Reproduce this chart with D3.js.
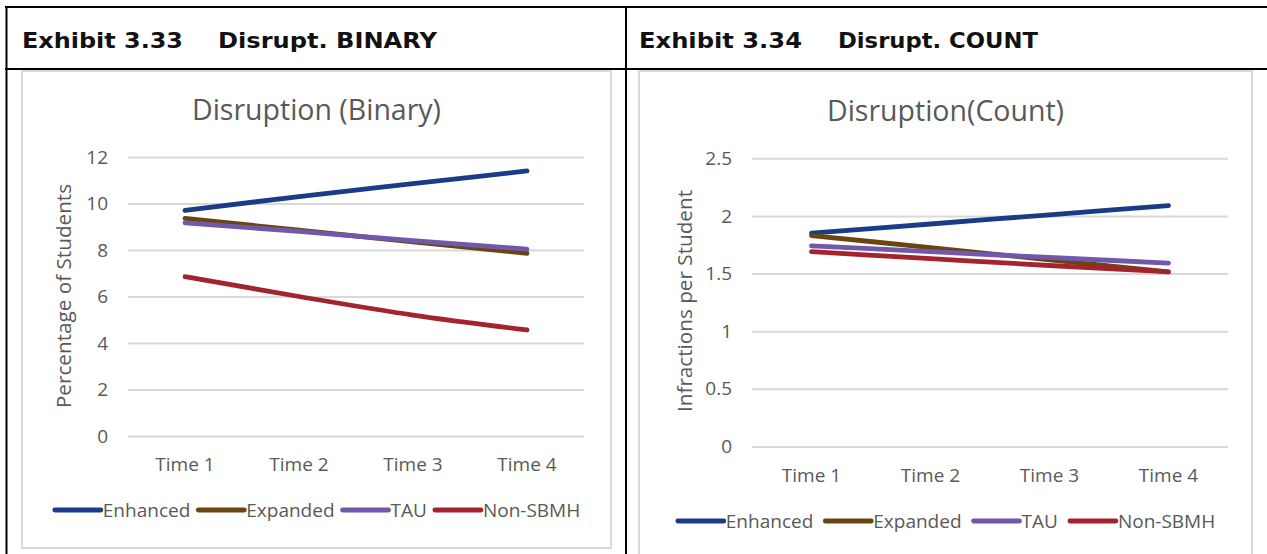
<!DOCTYPE html>
<html><head><meta charset="utf-8">
<script src="https://cdn.jsdelivr.net/npm/d3@7"></script>
<style>
html,body{margin:0;padding:0;background:#fff;}
svg{display:block;}
</style></head>
<body>
<svg id="c" width="1267" height="554"></svg>
<script>
// ---- data ----
const categories = ["Time 1", "Time 2", "Time 3", "Time 4"];
const seriesNames = ["Enhanced", "Expanded", "TAU", "Non-SBMH"];
const seriesColors = ["#1a3c87", "#6b4511", "#7158ab", "#a3242f"];

const binaryEnhanced = [9.7, 10.3, 10.85, 11.4];
const binaryExpanded = [9.36, 8.85, 8.35, 7.86];
const binaryTAU = [9.17, 8.8, 8.4, 8.04];
const binaryNonSBMH = [6.85, 6.0, 5.2, 4.56];
const binaryTicks = [0, 2, 4, 6, 8, 10, 12];

const countEnhanced = [1.85, 1.93, 2.01, 2.09];
const countExpanded = [1.83, 1.725, 1.62, 1.515];
const countTAU = [1.74, 1.69, 1.64, 1.59];
const countNonSBMH = [1.69, 1.63, 1.57, 1.515];
const countTicks = [0, 0.5, 1, 1.5, 2, 2.5];

const svg = d3.select("#c");
const FONT = "'Open Sans', sans-serif";
const GRAY = "#595959";

// ---- outer table ----
const tbl = svg.append("g");
tbl.append("line").attr("x1", 5).attr("x2", 1267).attr("y1", 7).attr("y2", 7).attr("stroke", "#000").attr("stroke-width", 2);
tbl.append("line").attr("x1", 5).attr("x2", 1267).attr("y1", 69).attr("y2", 69).attr("stroke", "#000").attr("stroke-width", 2);
tbl.append("line").attr("x1", 6.5).attr("x2", 6.5).attr("y1", 6).attr("y2", 554).attr("stroke", "#000").attr("stroke-width", 2);
tbl.append("line").attr("x1", 626).attr("x2", 626).attr("y1", 6).attr("y2", 554).attr("stroke", "#000").attr("stroke-width", 2);

function header(x, a, aEnd, bx, b, bEnd) {
  const g = svg.append("g").attr("font-family", "'DejaVu Sans', Verdana, sans-serif")
    .attr("font-weight", "bold").attr("font-size", 21).attr("fill", "#111");
  g.append("text").attr("x", x).attr("y", 48).attr("textLength", aEnd - x).attr("lengthAdjust", "spacingAndGlyphs").text(a);
  g.append("text").attr("x", bx).attr("y", 48).attr("textLength", bEnd - bx).attr("lengthAdjust", "spacingAndGlyphs").text(b);
}
header(22, "Exhibit 3.33", 183, 218, "Disrupt. BINARY", 437);
header(639, "Exhibit 3.34", 802, 838, "Disrupt. COUNT", 1038);

function chart(cfg) {
  const g = svg.append("g");
  g.append("rect").attr("x", cfg.box[0]).attr("y", cfg.box[1])
    .attr("width", cfg.box[2] - cfg.box[0]).attr("height", cfg.box[3] - cfg.box[1])
    .attr("fill", "#fff").attr("stroke", "#d9d9d9").attr("stroke-width", 2);
  const cx = (cfg.box[0] + cfg.box[2]) / 2;
  g.append("text").attr("x", cx).attr("y", cfg.titleY).attr("text-anchor", "middle")
    .attr("font-family", FONT).attr("font-size", 28.5).attr("fill", GRAY).text(cfg.title);

  const x = d3.scaleBand().domain(categories).range([cfg.px0, cfg.px1]);
  const y = d3.scaleLinear().domain([0, cfg.ticks[cfg.ticks.length - 1]]).range([cfg.py0, cfg.py1]);

  const ya = g.append("g").attr("transform", `translate(${cfg.px0},0)`)
    .call(d3.axisLeft(y).tickValues(cfg.ticks).tickSize(-(cfg.px1 - cfg.px0)).tickPadding(20).tickFormat(d => String(d)));
  ya.select(".domain").remove();
  ya.selectAll("line").attr("stroke", "#d9d9d9").attr("stroke-width", 2);
  ya.selectAll("text").attr("font-family", FONT).attr("font-size", 19).attr("fill", GRAY);

  const xa = g.append("g").attr("transform", `translate(0,${cfg.py0})`)
    .call(d3.axisBottom(x).tickSize(0).tickPadding(cfg.xPad));
  xa.select(".domain").remove();
  xa.selectAll("text").attr("font-family", FONT).attr("font-size", 19).attr("fill", GRAY);

  g.append("text").attr("transform", `translate(${cfg.ytX},${cfg.ytY}) rotate(-90)`)
    .attr("text-anchor", "middle").attr("font-family", FONT).attr("font-size", 20.7)
    .attr("fill", GRAY).text(cfg.yTitle);

  const line = d3.line().x((d, i) => x(categories[i]) + x.bandwidth() / 2).y(d => y(d)).curve(d3.curveMonotoneX);
  cfg.series.forEach((s, k) => {
    g.append("path").attr("d", line(s)).attr("fill", "none").attr("stroke", seriesColors[k])
      .attr("stroke-width", 4.8).attr("stroke-linecap", "round").attr("stroke-linejoin", "round");
  });

  const lg = g.append("g").attr("font-family", FONT).attr("font-size", 19).attr("fill", GRAY);
  let xx = 0;
  seriesNames.forEach((n, k) => {
    const it = lg.append("g").attr("transform", `translate(${xx},0)`);
    it.append("line").attr("x1", 2).attr("x2", 48).attr("y1", 0).attr("y2", 0)
      .attr("stroke", seriesColors[k]).attr("stroke-width", 4.8).attr("stroke-linecap", "round");
    const t = it.append("text").attr("x", 50).attr("y", 7).text(n);
    const w = t.node().getComputedTextLength();
    xx += 50 + w + cfg.legGap;
  });
  const total = xx - cfg.legGap;
  lg.attr("transform", `translate(${cx - total / 2},${cfg.legY})`);
}

chart({
  box: [22, 71, 611, 548], title: "Disruption (Binary)", titleY: 120,
  px0: 128, px1: 584, py0: 436, py1: 157, ticks: binaryTicks, xPad: 22,
  ytX: 71, ytY: 296, yTitle: "Percentage of Students",
  series: [binaryEnhanced, binaryExpanded, binaryTAU, binaryNonSBMH], legY: 510, legGap: 6
});
chart({
  box: [639, 71, 1252, 560], title: "Disruption(Count)", titleY: 121,
  px0: 752, px1: 1228, py0: 446.5, py1: 158.3, ticks: countTicks, xPad: 22,
  ytX: 692, ytY: 301, yTitle: "Infractions per Student",
  series: [countEnhanced, countExpanded, countTAU, countNonSBMH], legY: 521, legGap: 10
});
</script>
</body></html>
